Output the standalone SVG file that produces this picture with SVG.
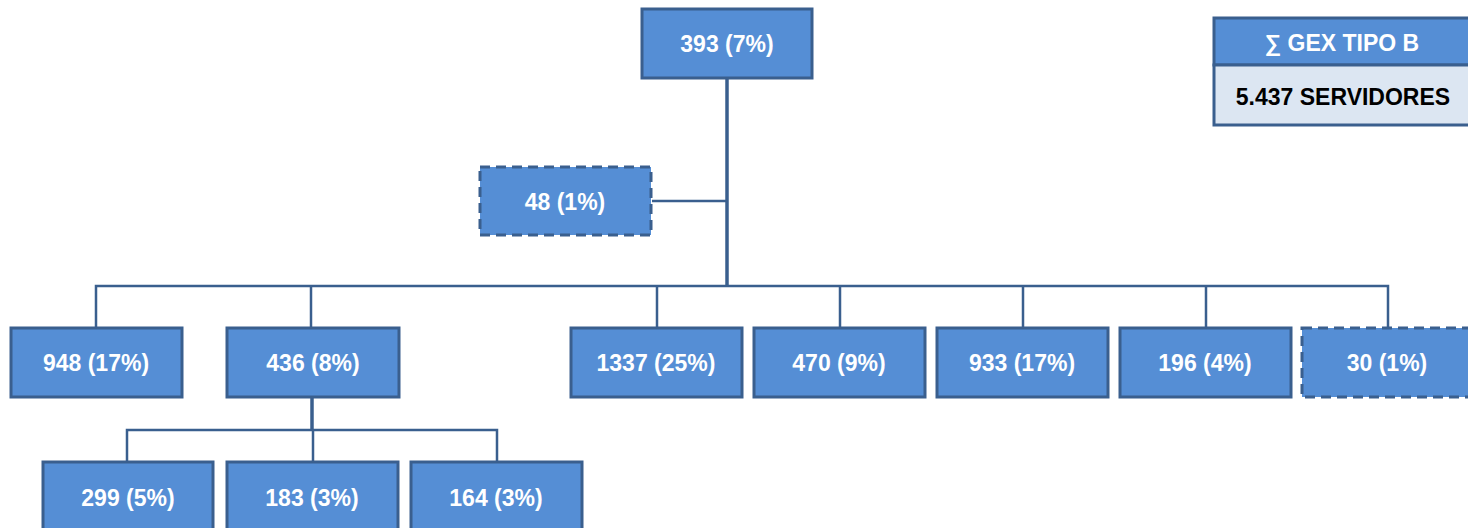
<svg xmlns="http://www.w3.org/2000/svg" width="1468" height="528" viewBox="0 0 1468 528">
<style>
.box{fill:#558ED5;stroke:#3A5F8E;stroke-width:3}
.dash{stroke-dasharray:10 6}
.lbl{font-family:"Liberation Sans",Arial,sans-serif;font-weight:bold;font-size:23px;fill:#FFFFFF;text-anchor:middle;dominant-baseline:central}
.dark{fill:#000000}
.conn{fill:none;stroke:#3A5F8E;stroke-width:2.5}
.trunk{fill:none;stroke:#3A5F8E;stroke-width:3.5}
</style>
<rect width="1468" height="528" fill="#FFFFFF"/>
<g id="connectors">
<line class="trunk" x1="727" y1="79" x2="727" y2="287"/>
<line class="conn" x1="652" y1="201" x2="727" y2="201"/>
<polyline class="conn" points="96,328 96,286 1388,286 1388,328"/>
<line class="conn" x1="311" y1="286" x2="311" y2="328"/>
<line class="conn" x1="657" y1="286" x2="657" y2="328"/>
<line class="conn" x1="840" y1="286" x2="840" y2="328"/>
<line class="conn" x1="1023" y1="286" x2="1023" y2="328"/>
<line class="conn" x1="1206" y1="286" x2="1206" y2="328"/>
<line class="trunk" x1="312" y1="397" x2="312" y2="431"/>
<polyline class="conn" points="127,462 127,430 497,430 497,462"/>
<line class="conn" x1="313" y1="430" x2="313" y2="462"/>
</g>
<g id="n393"><rect class="box" x="642" y="9" width="170" height="69"/><text class="lbl" x="727" y="44">393 (7%)</text></g>
<g id="n48"><rect class="box dash" x="480" y="167" width="171" height="68"/><text class="lbl" x="565" y="202">48 (1%)</text></g>
<g id="legend">
<rect x="1214" y="18" width="258" height="47" fill="#558ED5" stroke="#3A5F8E" stroke-width="3"/>
<rect x="1214" y="65" width="258" height="60" fill="#DCE6F2" stroke="#3A5F8E" stroke-width="3"/>
<text class="lbl" x="1342" y="43">∑ GEX TIPO B</text>
<text class="lbl dark" x="1343" y="97">5.437 SERVIDORES</text>
</g>
<g id="n948"><rect class="box" x="11" y="328" width="171" height="69"/><text class="lbl" x="96" y="363">948 (17%)</text></g>
<g id="n436"><rect class="box" x="227" y="328" width="172" height="69"/><text class="lbl" x="313" y="363">436 (8%)</text></g>
<g id="n1337"><rect class="box" x="571" y="328" width="171" height="69"/><text class="lbl" x="656" y="363">1337 (25%)</text></g>
<g id="n470"><rect class="box" x="754" y="328" width="171" height="69"/><text class="lbl" x="839" y="363">470 (9%)</text></g>
<g id="n933"><rect class="box" x="937" y="328" width="171" height="69"/><text class="lbl" x="1022" y="363">933 (17%)</text></g>
<g id="n196"><rect class="box" x="1120" y="328" width="171" height="69"/><text class="lbl" x="1205" y="363">196 (4%)</text></g>
<g id="n30"><rect class="box dash" x="1302" y="328" width="172" height="69"/><text class="lbl" x="1387" y="363">30 (1%)</text></g>
<g id="n299"><rect class="box" x="43" y="462" width="170" height="70"/><text class="lbl" x="128" y="498">299 (5%)</text></g>
<g id="n183"><rect class="box" x="227" y="462" width="171" height="70"/><text class="lbl" x="312" y="498">183 (3%)</text></g>
<g id="n164"><rect class="box" x="411" y="462" width="171" height="70"/><text class="lbl" x="496" y="498">164 (3%)</text></g>
</svg>
